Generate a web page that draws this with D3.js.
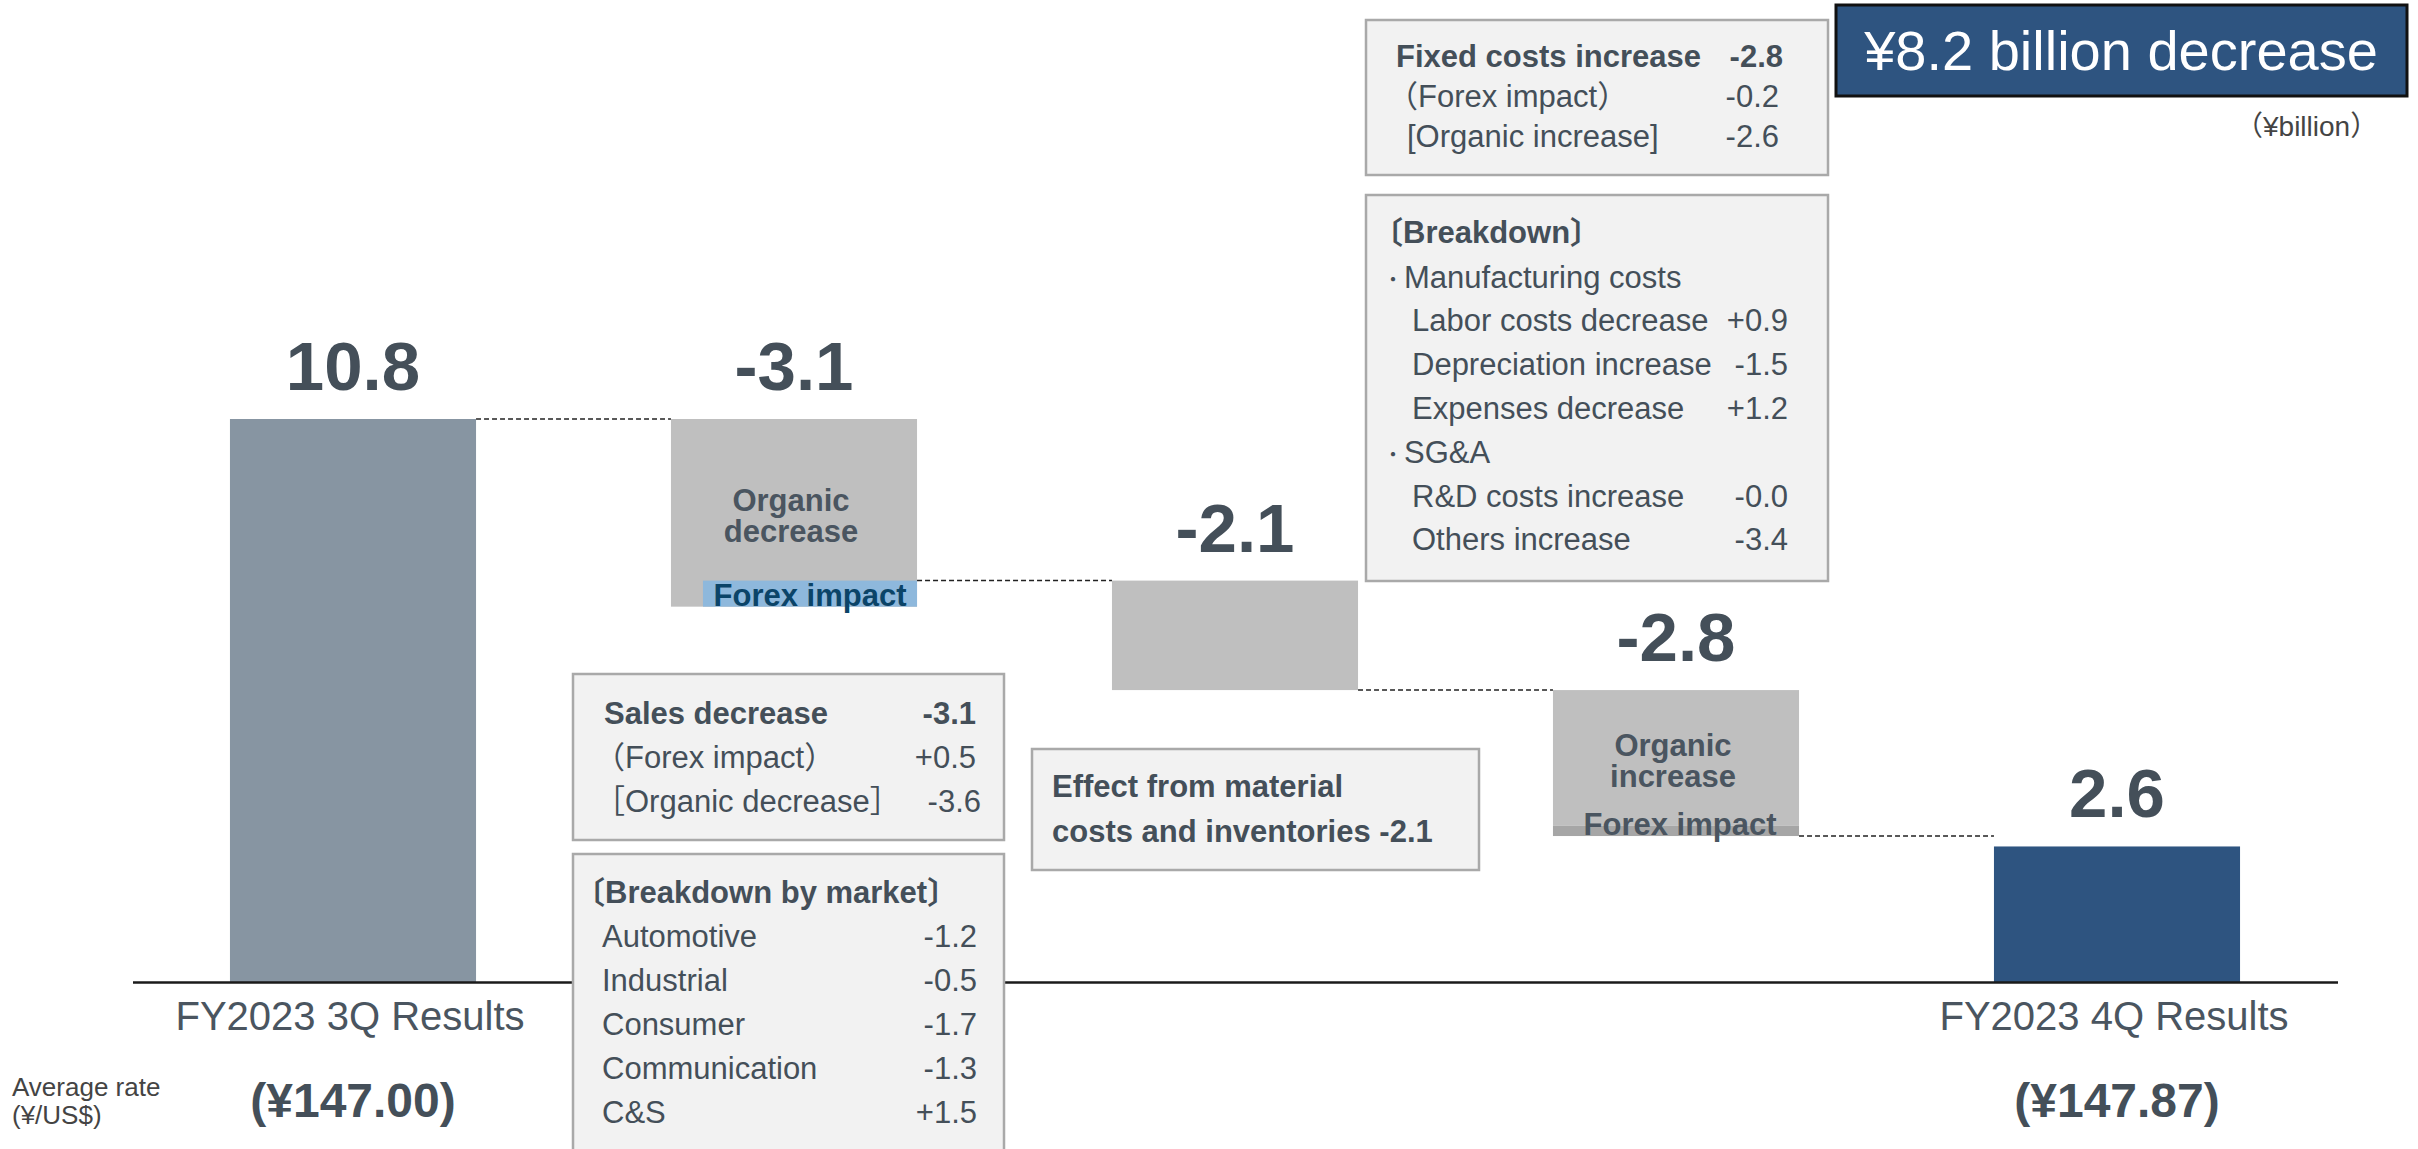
<!DOCTYPE html>
<html>
<head>
<meta charset="utf-8">
<script src="https://cdn.jsdelivr.net/npm/d3@7"></script>
<style>
  html, body { margin: 0; padding: 0; background: #ffffff; }
  svg { display: block; }
  text { font-family: "Liberation Sans", Arial, "Noto Sans CJK JP", sans-serif; }
</style>
</head>
<body>
<svg id="chart" width="2418" height="1149"></svg>
<script>
// ---------------- DATA ----------------
const categories = ["FY2023 3Q Results", "Sales", "Material costs", "Fixed costs", "FY2023 4Q Results"];
const startValue = 10.8;
const endValue = 2.6;
const stepTotals = [-3.1, -2.1, -2.8];
const organicChange = [-3.6, -2.1, -2.6];
const forexChange = [0.5, 0, -0.2];
const organicLabels = [["Organic", "decrease"], null, ["Organic", "increase"]];
const forexLabels = ["Forex impact", null, "Forex impact"];
const rateLabels = ["(¥147.00)", "(¥147.87)"];
const rateTitle = ["Average rate", "(¥/US$)"];
const headline = "¥8.2 billion decrease";
const unitLabel = "（¥billion）";

const salesRows = ["Sales decrease", "（Forex impact）", "［Organic decrease］"];
const salesValues = ["-3.1", "+0.5", "-3.6"];
const marketTitle = "〔Breakdown by market〕";
const marketNames = ["Automotive", "Industrial", "Consumer", "Communication", "C&S"];
const marketValues = ["-1.2", "-0.5", "-1.7", "-1.3", "+1.5"];
const materialText = ["Effect from material", "costs and inventories -2.1"];
const fixedRows = ["Fixed costs increase", "（Forex impact）", "[Organic increase]"];
const fixedValues = ["-2.8", "-0.2", "-2.6"];
const breakdownTitle = "〔Breakdown〕";
const breakdownGroups = ["Manufacturing costs", "SG&A"];
const bullet = "・";
const breakdownNames = ["Labor costs decrease", "Depreciation increase", "Expenses decrease", "R&D costs increase", "Others increase"];
const breakdownValues = ["+0.9", "-1.5", "+1.2", "-0.0", "-3.4"];

// ---------------- STYLE ----------------
const TXT = "#444F59";
const C_START = "#8795A2";
const C_END = "#2E5480";
const C_STEP = "#BFBFBF";
const C_FX_POS = "#8EB8DC";
const C_FX_NEG = "#A6A6A6";
const BOX_FILL = "#F2F2F2";
const BOX_STROKE = "#A9A9A9";

const svg = d3.select("#chart");

const x = d3.scaleBand().domain(categories)
  .range([132.5, 2337.5]).paddingInner(0.442).paddingOuter(0.221);
const y = d3.scaleLinear().domain([0, 10.8]).range([982, 419]);
const bw = x.bandwidth();

function text(g, xx, yy, s, o = {}) {
  return g.append("text")
    .attr("x", xx).attr("y", yy)
    .attr("font-size", o.size || 31)
    .attr("font-weight", o.bold ? "bold" : "normal")
    .attr("text-anchor", o.anchor || "start")
    .attr("fill", o.color || TXT)
    .text(s);
}

// ---------------- BARS ----------------
const gBars = svg.append("g");

gBars.append("rect")
  .attr("x", x(categories[0])).attr("width", bw)
  .attr("y", y(startValue)).attr("height", y(0) - y(startValue))
  .attr("fill", C_START);

let cur = startValue;
const levels = [startValue];
const tops = [startValue];
const steps = [];
organicChange.forEach((oc, i) => {
  const cat = categories[i + 1];
  const oStart = cur, oEnd = cur + oc;
  const fEnd = oEnd + forexChange[i];
  steps.push({ cat, oStart, oEnd, fEnd, i });
  tops.push(Math.max(oStart, oEnd, fEnd));
  cur = fEnd;
  levels.push(cur);
});
tops.push(endValue);

steps.forEach(s => {
  gBars.append("rect")
    .attr("x", x(s.cat)).attr("width", bw)
    .attr("y", y(Math.max(s.oStart, s.oEnd)))
    .attr("height", Math.abs(y(s.oEnd) - y(s.oStart)))
    .attr("fill", C_STEP);
  const fx = forexChange[s.i];
  if (fx !== 0) {
    const inset = fx > 0 ? 32 : 0;
    const yTop = y(Math.max(s.oEnd, s.fEnd));
    const yBot = y(Math.min(s.oEnd, s.fEnd));
    gBars.append("rect")
      .attr("x", x(s.cat) + inset).attr("width", bw - inset)
      .attr("y", yTop).attr("height", yBot - yTop)
      .attr("fill", fx > 0 ? C_FX_POS : C_FX_NEG);
    text(gBars, x(s.cat) + inset + (bw - inset) / 2 + (fx > 0 ? 0 : 4), yBot - 1, forexLabels[s.i],
      { bold: true, anchor: "middle", size: 31, color: fx > 0 ? "#0B4468" : "#4A5560" });
  }
  if (organicLabels[s.i]) {
    const mid = y((s.oStart + s.oEnd) / 2);
    const cx = x(s.cat) + bw / 2 - 3;
    text(gBars, cx, mid - 2, organicLabels[s.i][0], { bold: true, anchor: "middle", size: 31, color: "#4A5560" });
    text(gBars, cx, mid + 29, organicLabels[s.i][1], { bold: true, anchor: "middle", size: 31, color: "#4A5560" });
  }
});

gBars.append("rect")
  .attr("x", x(categories[4])).attr("width", bw)
  .attr("y", y(endValue)).attr("height", y(0) - y(endValue))
  .attr("fill", C_END);

// connectors
levels.forEach((lv, i) => {
  svg.append("line")
    .attr("x1", x(categories[i]) + bw).attr("x2", x(categories[i + 1]))
    .attr("y1", y(lv)).attr("y2", y(lv))
    .attr("stroke", "#222").attr("stroke-width", 1.5)
    .attr("stroke-dasharray", "5,3");
});

// value labels
const valueLabels = [startValue.toFixed(1)].concat(stepTotals.map(v => v.toFixed(1)), [endValue.toFixed(1)]);
valueLabels.forEach((v, i) => {
  text(svg, x(categories[i]) + bw / 2, y(tops[i]) - 29, v, { bold: true, anchor: "middle", size: 69 });
});

// axis baseline
const axis = d3.axisBottom(x).tickSize(0).tickSizeOuter(0).tickFormat("");
const gAxis = svg.append("g").attr("transform", `translate(0,${y(0)})`).call(axis);
gAxis.select(".domain").attr("stroke", "#1a1a1a").attr("stroke-width", 2.5);

// category labels and rates
[0, 4].forEach((ci, k) => {
  const cx = x(categories[ci]) + bw / 2;
  text(svg, cx - 3, 1030, categories[ci], { anchor: "middle", size: 40, color: "#4A5560" });
  text(svg, cx, 1117, rateLabels[k], { bold: true, anchor: "middle", size: 48 });
});
text(svg, 12, 1096, rateTitle[0], { size: 26, color: "#444" });
text(svg, 12, 1124, rateTitle[1], { size: 26, color: "#444" });

// ---------------- BOXES ----------------
function box(x0, y0, w, h) {
  svg.append("rect").attr("x", x0).attr("y", y0).attr("width", w).attr("height", h)
    .attr("fill", BOX_FILL).attr("stroke", BOX_STROKE).attr("stroke-width", 2.5);
}

box(573, 674, 431, 166);
salesRows.forEach((r, i) => {
  const yy = 724 + i * 44;
  text(svg, i === 0 ? 604 : 594, yy, r, { bold: i === 0 });
  text(svg, i === 2 ? 981 : 976, yy, salesValues[i], { bold: i === 0, anchor: "end" });
});

box(573, 854, 431, 320);
text(svg, 574, 903, marketTitle, { bold: true });
marketNames.forEach((n, i) => {
  const yy = 947 + i * 44;
  text(svg, 602, yy, n);
  text(svg, 977, yy, marketValues[i], { anchor: "end" });
});

box(1032, 749, 447, 121);
materialText.forEach((t, i) => text(svg, 1052, 797 + i * 45, t, { bold: true }));

box(1366, 20, 462, 155);
fixedRows.forEach((r, i) => {
  const yy = 67 + i * 40;
  text(svg, [1396, 1387, 1407][i], yy, r, { bold: i === 0 });
  text(svg, i === 0 ? 1783 : 1779, yy, fixedValues[i], { bold: i === 0, anchor: "end" });
});

box(1366, 195, 462, 386);
text(svg, 1372, 243, breakdownTitle, { bold: true });
[288, 463].forEach((yy, k) => {
  text(svg, 1383, yy - 1, bullet, { size: 20 });
  text(svg, 1404, yy, breakdownGroups[k]);
});
const rowY = [331, 375, 419, 507, 550];
breakdownNames.forEach((n, i) => {
  text(svg, 1412, rowY[i], n);
  text(svg, 1788, rowY[i], breakdownValues[i], { anchor: "end" });
});

// Headline
svg.append("rect").attr("x", 1836).attr("y", 5).attr("width", 571).attr("height", 91)
  .attr("fill", C_END).attr("stroke", "#111").attr("stroke-width", 3);
text(svg, 2121, 70, headline, { size: 56, anchor: "middle", color: "#ffffff" });
text(svg, 2235, 136, unitLabel, { size: 28, color: "#444" });
</script>
</body>
</html>
